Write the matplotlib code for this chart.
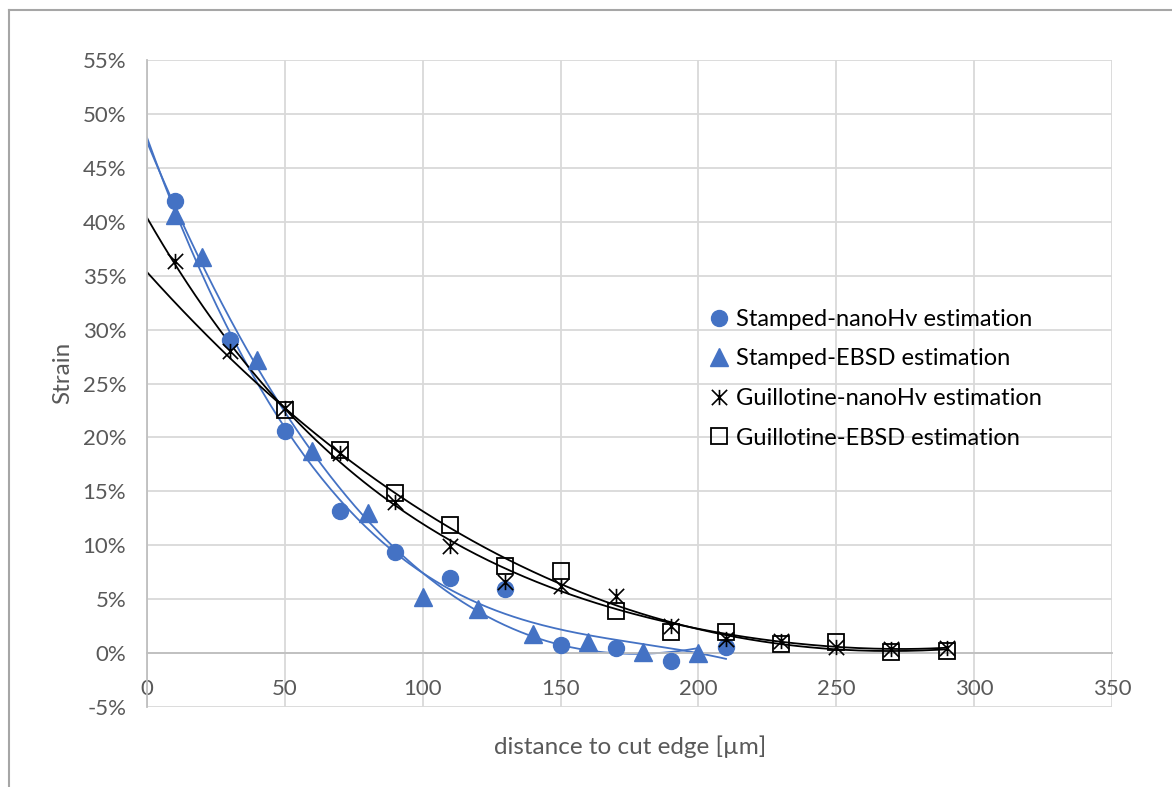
import numpy as np
import matplotlib
matplotlib.use('Agg')
from matplotlib import pyplot as plt
from matplotlib.path import Path
from matplotlib.lines import Line2D
from matplotlib.ticker import PercentFormatter

# data (strain in %)
x_st_nano = [10, 30, 50, 70, 90, 110, 130, 150, 170, 190, 210]
y_st_nano = [41.9, 29.0, 20.6, 13.2, 9.4, 7.0, 5.9, 0.75, 0.5, -0.7, 0.55]

x_st_ebsd = [10, 20, 40, 60, 80, 100, 120, 140, 160, 180, 200]
y_st_ebsd = [40.6, 36.7, 27.2, 18.7, 13.0, 5.2, 4.1, 1.8, 1.0, 0.1, 0.05]

x_gu_nano = [10, 30, 50, 70, 90, 110, 130, 150, 170, 190, 210, 230, 250, 270, 290]
y_gu_nano = [36.4, 28.0, 22.7, 18.6, 14.0, 9.9, 6.6, 6.2, 5.3, 2.5, 1.3, 1.15, 0.6, 0.4, 0.5]

x_gu_ebsd = [50, 70, 90, 110, 130, 150, 170, 190, 210, 230, 250, 270, 290]
y_gu_ebsd = [22.5, 18.8, 14.8, 11.9, 8.1, 7.6, 3.9, 1.95, 1.95, 0.85, 1.0, 0.08, 0.15]

labels = ['Stamped-nanoHv estimation', 'Stamped-EBSD estimation',
          'Guillotine-nanoHv estimation', 'Guillotine-EBSD estimation']

blue = '#4472C4'
grey_txt = '#595959'
plt.rcParams['font.family'] = ['Lato', 'DejaVu Sans']
plt.rcParams['axes.unicode_minus'] = False

# asterisk marker like excel (X + vertical bar)
star = Path([(0, -1), (0, 1), (-1, -1), (1, 1), (-1, 1), (1, -1)],
            [Path.MOVETO, Path.LINETO] * 3)

fig = plt.figure(figsize=(11.72, 7.87), dpi=100)
ax = fig.add_axes([147/1172, 1-707/787, (1112-147)/1172, (707-60)/787])

def trend(x, y, xmax, color, deg=3):
    # polynomial trendline, forecast back to 0
    c = np.polyfit(x, y, deg)
    xx = np.linspace(0, xmax, 200)
    ax.plot(xx, np.polyval(c, xx), color=color, lw=1.3, zorder=2)

trend(x_st_nano, y_st_nano, 210, blue)
trend(x_st_ebsd, y_st_ebsd, 200, blue)
trend(x_gu_nano, y_gu_nano, 290, 'black', deg=4)
trend(x_gu_ebsd, y_gu_ebsd, 290, 'black')

ax.plot(x_st_nano, y_st_nano, 'o', ms=11.5, color=blue, ls='none', label=labels[0], zorder=3)
ax.plot(x_st_ebsd, y_st_ebsd, '^', ms=12.5, color=blue, ls='none', label=labels[1], zorder=3)
ax.plot(x_gu_nano, y_gu_nano, marker=star, ms=11, mec='black', mew=1.2, ls='none',
        label=labels[2], zorder=4)
ax.plot(x_gu_ebsd, y_gu_ebsd, 's', ms=11, mfc='none', mec='black', mew=1.3, ls='none',
        label=labels[3], zorder=4)

ax.set_xlim(0, 350)
ax.set_ylim(-5, 55)
ax.set_xticks(np.arange(0, 351, 50))
ax.set_yticks(np.arange(-5, 56, 5))
ax.yaxis.set_major_formatter(PercentFormatter(decimals=0))
ax.grid(True, color='#D9D9D9', lw=1.3)
ax.set_axisbelow(True)
for s in ['top', 'right']:
    ax.spines[s].set_visible(False)
ax.spines['bottom'].set_position(('data', 0))
ax.spines['bottom'].set_color('#BFBFBF')
ax.spines['bottom'].set_linewidth(1.3)
ax.spines['left'].set_color('#BFBFBF')
ax.spines['left'].set_linewidth(1.3)
ax.tick_params(axis='both', length=0, labelsize=16, labelcolor=grey_txt)
ax.tick_params(axis='x', pad=19)
ax.tick_params(axis='y', pad=15)

fig.text(630/1172, 1-747/787, 'distance to cut edge [µm]', ha='center', va='center',
         fontsize=17.5, color=grey_txt)
fig.text(63/1172, 1-373/787, 'Strain', ha='center', va='center', rotation=90,
         fontsize=17.5, color=grey_txt)

ax.legend(loc='upper left', bbox_to_anchor=(698/1172, 1-297/787),
          bbox_transform=fig.transFigure, frameon=False, fontsize=17,
          handlelength=0.8, handletextpad=0.3, labelspacing=0.79, borderpad=0)

# outer chart border (cropped on right/bottom)
fig.add_artist(Line2D([9/1172, 9/1172], [0, 1-10/787], color='#A6A6A6', lw=1.5))
fig.add_artist(Line2D([9/1172, 1], [1-10/787, 1-10/787], color='#A6A6A6', lw=1.5))

fig.savefig('out.png', dpi=100)
